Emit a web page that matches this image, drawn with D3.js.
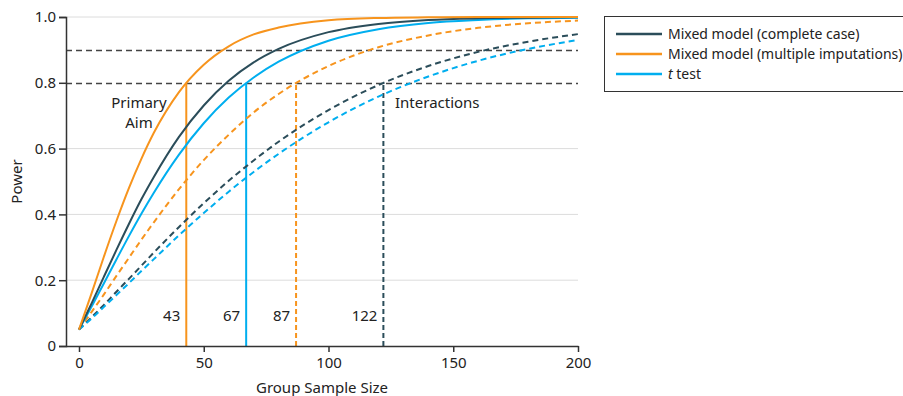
<!DOCTYPE html>
<html lang="en">
<head>
<meta charset="utf-8">
<title>Power curves</title>
<script src="https://cdn.jsdelivr.net/npm/d3@7"></script>
<style>
body { margin: 0; background: #fff; }
text { font-family: "Noto Sans", sans-serif; fill: #222; }
</style>
</head>
<body>
<script>
var w = 903, h = 396;
var margin = {left: 66, right: 325, top: 17, bottom: 50};

// sample sizes per group
var sampleSizes = [0, 5, 10, 15, 20, 25, 30, 40, 50, 60, 70, 80, 100, 120, 140, 160, 180, 200];

// power
var mixedComplete   = [0.05, 0.129, 0.211, 0.292, 0.371, 0.446, 0.514, 0.635, 0.731, 0.806, 0.862, 0.903, 0.954, 0.979, 0.991, 0.996, 0.998, 0.999];
var mixedImputed    = [0.05, 0.159, 0.272, 0.380, 0.480, 0.569, 0.648, 0.771, 0.855, 0.911, 0.947, 0.968, 0.990, 0.997, 0.999, 1.0, 1.0, 1.0];
var tTest           = [0.05, 0.119, 0.191, 0.263, 0.334, 0.402, 0.466, 0.581, 0.677, 0.755, 0.816, 0.864, 0.928, 0.963, 0.982, 0.991, 0.996, 0.998];
var mixedCompleteIx = [0.05, 0.087, 0.125, 0.165, 0.204, 0.244, 0.284, 0.361, 0.434, 0.502, 0.564, 0.621, 0.717, 0.793, 0.851, 0.894, 0.925, 0.948];
var mixedImputedIx  = [0.05, 0.103, 0.157, 0.213, 0.268, 0.323, 0.376, 0.476, 0.565, 0.642, 0.710, 0.766, 0.851, 0.908, 0.944, 0.967, 0.981, 0.989];
var tTestIx         = [0.05, 0.083, 0.119, 0.155, 0.191, 0.228, 0.264, 0.336, 0.404, 0.469, 0.529, 0.584, 0.680, 0.758, 0.819, 0.867, 0.903, 0.930];

var xTicks = [0, 50, 100, 150, 200];
var yTicks = [0, 0.2, 0.4, 0.6, 0.8, 1.0];
var yTickLabels = ["0", "0.2", "0.4", "0.6", "0.8", "1.0"];
var refPower = [0.8, 0.9];

// required sample sizes at 80% power
var markers = [
  {n: 43, series: "imp", dashed: false},
  {n: 67, series: "t", dashed: false},
  {n: 87, series: "imp", dashed: true},
  {n: 122, series: "cc", dashed: true}
];

var colors = {cc: "#2b4d5a", imp: "#f7941d", t: "#00aeef"};
var legendItems = [
  {key: "cc", label: "Mixed model (complete case)"},
  {key: "imp", label: "Mixed model (multiple imputations)"},
  {key: "t", label: "t test"}
];

var curves = [
  {key: "imp", dashed: true, values: mixedImputedIx},
  {key: "cc", dashed: true, values: mixedCompleteIx},
  {key: "t", dashed: true, values: tTestIx},
  {key: "t", dashed: false, values: tTest},
  {key: "cc", dashed: false, values: mixedComplete},
  {key: "imp", dashed: false, values: mixedImputed}
];

var svg = d3.select("body").append("svg")
  .attr("width", w).attr("height", h);

var xScale = d3.scaleLinear().domain([0, 200]).range([79, 578]);
var yScale = d3.scaleLinear().domain([0, 1]).range([h - margin.bottom, margin.top]);

// grid
svg.append("g").selectAll("line")
  .data([0.2, 0.4, 0.6, 1.0])
  .enter().append("line")
  .attr("x1", margin.left).attr("x2", xScale(200))
  .attr("y1", function(d) { return yScale(d); })
  .attr("y2", function(d) { return yScale(d); })
  .attr("stroke", "#dcdcdc").attr("stroke-width", 1);

// 80% / 90% reference lines
svg.append("g").selectAll("line")
  .data(refPower)
  .enter().append("line")
  .attr("x1", margin.left).attr("x2", xScale(200))
  .attr("y1", function(d) { return Math.round(yScale(d)) + 0.5; })
  .attr("y2", function(d) { return Math.round(yScale(d)) + 0.5; })
  .attr("stroke", "#444").attr("stroke-width", 1.3)
  .attr("stroke-dasharray", "6,4");

// vertical markers
svg.append("g").selectAll("line")
  .data(markers)
  .enter().append("line")
  .attr("x1", function(d) { return xScale(d.n); })
  .attr("x2", function(d) { return xScale(d.n); })
  .attr("y1", yScale(0)).attr("y2", yScale(0.8))
  .attr("stroke", function(d) { return colors[d.series]; })
  .attr("stroke-width", 2)
  .attr("stroke-dasharray", function(d) { return d.dashed ? "5,3" : null; });

svg.append("g").selectAll("text")
  .data(markers)
  .enter().append("text")
  .attr("x", function(d) { return xScale(d.n) - 6; })
  .attr("y", 321)
  .attr("text-anchor", "end")
  .attr("font-size", "15px")
  .text(function(d) { return d.n; });

// curves
var line = d3.line()
  .x(function(d, i) { return xScale(sampleSizes[i]); })
  .y(function(d) { return yScale(d); })
  .curve(d3.curveMonotoneX);

svg.append("g").selectAll("path")
  .data(curves)
  .enter().append("path")
  .attr("d", function(d) { return line(d.values); })
  .attr("fill", "none")
  .attr("stroke", function(d) { return colors[d.key]; })
  .attr("stroke-width", 2)
  .attr("stroke-dasharray", function(d) { return d.dashed ? "6,4" : null; });

// annotations
svg.append("text").attr("x", 139).attr("y", 108)
  .attr("text-anchor", "middle").attr("font-size", "15px").text("Primary");
svg.append("text").attr("x", 139).attr("y", 128)
  .attr("text-anchor", "middle").attr("font-size", "15px").text("Aim");
svg.append("text").attr("x", 395).attr("y", 108)
  .attr("font-size", "15px").text("Interactions");

// axes
var xAxis = d3.axisBottom(xScale).tickValues(xTicks).tickSizeOuter(0).tickSize(6).tickPadding(5);
var yAxis = d3.axisLeft(yScale).tickValues(yTicks).tickSizeOuter(0).tickSize(7).tickPadding(3)
  .tickFormat(function(d, i) { return yTickLabels[i]; });

var gx = svg.append("g")
  .attr("transform", "translate(0," + yScale(0) + ")")
  .call(xAxis);
gx.select(".domain").attr("d", "M" + margin.left + ",0.5H" + (xScale(200) + 0.5));
gx.selectAll("text").attr("font-size", "15px").attr("font-family", "Noto Sans, sans-serif").attr("fill", "#222");

var gy = svg.append("g")
  .attr("transform", "translate(" + margin.left + ",0)")
  .call(yAxis);
gy.selectAll("text").attr("font-size", "15px").attr("font-family", "Noto Sans, sans-serif").attr("fill", "#222");

svg.selectAll(".domain, .tick line").attr("stroke", "#333").attr("stroke-width", 1.5);

svg.append("text")
  .attr("x", (margin.left + xScale(200)) / 2).attr("y", 393)
  .attr("text-anchor", "middle").attr("font-size", "15px")
  .text("Group Sample Size");

svg.append("text")
  .attr("transform", "translate(22," + yScale(0.5) + ") rotate(-90)")
  .attr("text-anchor", "middle").attr("font-size", "15px")
  .text("Power");

// legend
var legend = svg.append("g");
legend.append("rect")
  .attr("x", 604.5).attr("y", 16.5).attr("width", 310).attr("height", 75)
  .attr("fill", "none").attr("stroke", "#333").attr("stroke-width", 1);

var li = legend.selectAll("g.item")
  .data(legendItems)
  .enter().append("g").attr("class", "item")
  .attr("transform", function(d, i) { return "translate(0," + (34 + i * 20) + ")"; });
li.append("line")
  .attr("x1", 616).attr("x2", 662)
  .attr("stroke", function(d) { return colors[d.key]; })
  .attr("stroke-width", 2.5);
li.append("text")
  .attr("x", 668).attr("y", 5)
  .attr("font-size", "14px")
  .each(function(d) {
    var t = d3.select(this);
    if (d.key === "t") {
      t.append("tspan").attr("font-style", "italic").text("t");
      t.append("tspan").text(" test");
    } else {
      t.text(d.label);
    }
  });
</script>
</body>
</html>
